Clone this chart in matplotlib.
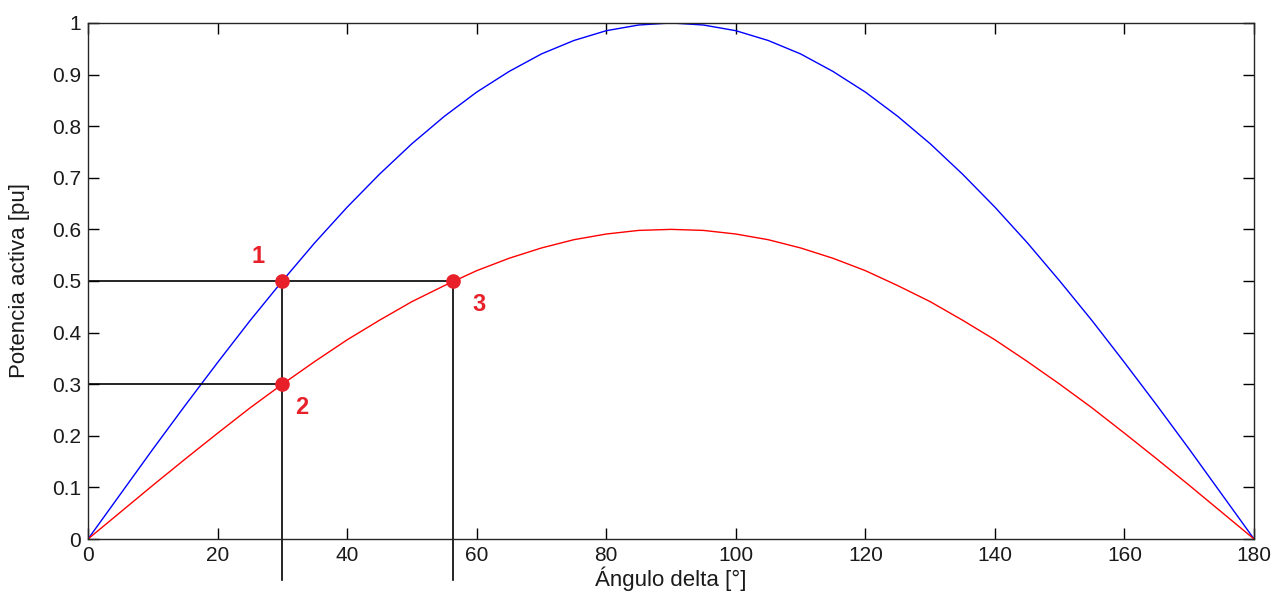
import matplotlib
matplotlib.use("Agg")
import matplotlib.pyplot as plt

plt.rcParams['font.family'] = ['Liberation Sans', 'DejaVu Sans']

# Angle samples [deg]
delta = [0, 5, 10, 15, 20, 25, 30, 35, 40, 45, 50, 55, 60, 65, 70, 75, 80, 85, 90,
         95, 100, 105, 110, 115, 120, 125, 130, 135, 140, 145, 150, 155, 160, 165, 170, 175, 180]
# Blue curve
p_blue = [0, 0.087, 0.174, 0.259, 0.342, 0.423, 0.500, 0.574, 0.643, 0.707, 0.766, 0.819,
          0.866, 0.906, 0.940, 0.966, 0.985, 0.996, 1.000,
          0.996, 0.985, 0.966, 0.940, 0.906, 0.866, 0.819, 0.766, 0.707, 0.643, 0.574,
          0.500, 0.423, 0.342, 0.259, 0.174, 0.087, 0]
# Red curve
p_red = [0, 0.052, 0.104, 0.155, 0.205, 0.254, 0.300, 0.344, 0.386, 0.424, 0.460, 0.491,
         0.520, 0.544, 0.564, 0.580, 0.591, 0.598, 0.600,
         0.598, 0.591, 0.580, 0.564, 0.544, 0.520, 0.491, 0.460, 0.424, 0.386, 0.344,
         0.300, 0.254, 0.205, 0.155, 0.104, 0.052, 0]

# Operating points
pt_x = [30, 30, 56.4]
pt_y = [0.5, 0.3, 0.5]
pt_labels = ['1', '2', '3']
lbl_x = [26.2, 33.0, 60.3]
lbl_y = [0.548, 0.255, 0.455]

x_ticks = [0, 20, 40, 60, 80, 100, 120, 140, 160, 180]
y_ticks = [0, 0.1, 0.2, 0.3, 0.4, 0.5, 0.6, 0.7, 0.8, 0.9, 1]
y_ticklabels = ['0', '0.1', '0.2', '0.3', '0.4', '0.5', '0.6', '0.7', '0.8', '0.9', '1']

fig = plt.figure(figsize=(12.87, 6.04), dpi=100)
ax = fig.add_axes([0.0684, 0.1076, 0.906, 0.8544])

ax.plot(delta, p_blue, color='#0000ff', lw=1.0)
ax.plot(delta, p_red, color='#ff0000', lw=1.0)

# Guide lines
ax.plot([0, pt_x[2]], [pt_y[0], pt_y[2]], color='black', lw=1.2)
ax.plot([0, pt_x[1]], [pt_y[1], pt_y[1]], color='black', lw=1.2)
ax.plot([pt_x[0], pt_x[0]], [pt_y[0], -0.08], color='black', lw=1.2, clip_on=False)
ax.plot([pt_x[2], pt_x[2]], [pt_y[2], -0.08], color='black', lw=1.2, clip_on=False)

ax.plot(pt_x, pt_y, 'o', color='#e8202a', ms=9.5, zorder=5)
for tx, ty, t in zip(lbl_x, lbl_y, pt_labels):
    ax.text(tx, ty, t, color='#e8202a', fontsize=17, fontweight='bold',
            ha='center', va='center')

ax.set_xlim(0, 180)
ax.set_ylim(0, 1)
ax.set_xticks(x_ticks)
ax.set_yticks(y_ticks)
ax.set_yticklabels(y_ticklabels)
ax.tick_params(direction='in', length=8, width=1, top=True, right=True,
               labelsize=15, pad=5, labelcolor='#1a1a1a')
for s in ax.spines.values():
    s.set_linewidth(1.0)
    s.set_color('#262626')

ax.set_xlabel('Ángulo delta [°]', fontsize=16, labelpad=1, color='#1a1a1a')
ax.set_ylabel('Potencia activa [pu]', fontsize=16, labelpad=16, color='#1a1a1a')

fig.savefig('out.png', dpi=100)
